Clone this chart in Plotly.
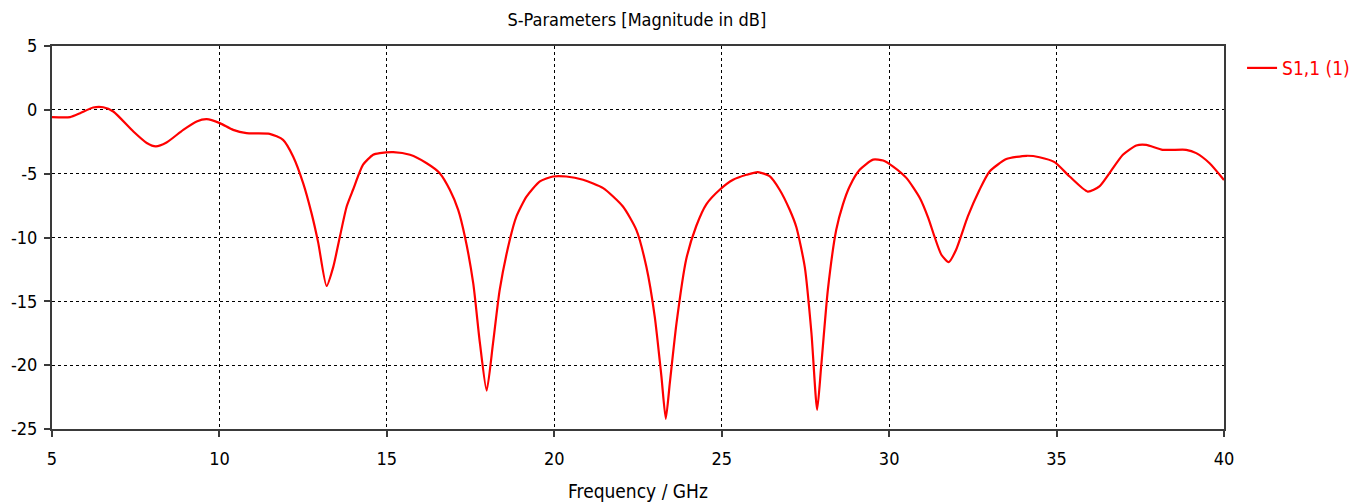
import plotly.graph_objects as go

freq_ghz = [5.0, 5.54, 5.84, 6.23, 6.53, 6.83, 7.43, 7.83, 8.1, 8.42, 8.92, 9.32, 9.62, 10.01,
            10.41, 10.81, 11.5, 11.9, 12.2, 12.5, 12.75, 12.95, 13.2, 13.4, 13.6, 13.8, 13.99,
            14.29, 14.59, 14.79, 15.19, 15.69, 16.19, 16.58, 16.88, 17.13, 17.33, 17.58, 17.78,
            17.98, 18.17, 18.37, 18.67, 18.87, 19.17, 19.57, 19.96, 20.36, 20.86, 21.46, 22.05,
            22.45, 22.75, 23.0, 23.2, 23.33, 23.45, 23.65, 23.94, 24.24, 24.54, 24.94, 25.34,
            25.74, 26.08, 26.43, 26.73, 27.03, 27.23, 27.48, 27.68, 27.85, 27.97, 28.17, 28.42,
            28.62, 28.82, 29.12, 29.52, 29.82, 30.12, 30.52, 30.92, 31.17, 31.35, 31.56, 31.78,
            32.0, 32.35, 32.7, 33.0, 33.5, 34.1, 34.49, 34.94, 35.39, 35.93, 36.28, 36.58,
            36.98, 37.38, 37.68, 38.17, 38.87, 39.17, 39.57, 40.0]
s11_db = [-0.57, -0.57, -0.26, 0.18, 0.2, -0.13, -1.7, -2.6, -2.87, -2.56, -1.57, -0.91, -0.73,
          -1.04, -1.57, -1.83, -1.88, -2.35, -3.65, -5.74, -8.09, -10.4, -13.8, -12.3, -9.9,
          -7.57, -6.26, -4.3, -3.52, -3.39, -3.31, -3.52, -4.18, -4.96, -6.26, -7.83, -9.92,
          -13.6, -18.3, -22.0, -18.3, -14.1, -10.2, -8.35, -6.8, -5.6, -5.22, -5.22, -5.48,
          -6.13, -7.57, -9.4, -12.3, -16.2, -20.9, -24.2, -21.4, -16.7, -11.7, -9.1, -7.4,
          -6.26, -5.48, -5.09, -4.88, -5.2, -6.26, -7.83, -9.2, -12.3, -17.5, -23.5, -20.1,
          -14.1, -9.4, -7.4, -6.0, -4.7, -3.9, -3.97, -4.44, -5.35, -6.92, -8.48, -9.9,
          -11.35, -11.93, -10.96, -8.35, -6.26, -4.83, -3.86, -3.6, -3.71, -4.1, -5.22, -6.4,
          -6.0, -4.96, -3.52, -2.79, -2.74, -3.13, -3.13, -3.39, -4.18, -5.5]

x_ticks = [5, 10, 15, 20, 25, 30, 35, 40]
y_ticks = [5, 0, -5, -10, -15, -20, -25]

FONT = "DejaVu Sans Condensed, DejaVu Sans, sans-serif"

fig = go.Figure()
fig.add_trace(go.Scatter(
    x=freq_ghz, y=s11_db, mode="lines", name="S1,1 (1)",
    line=dict(color="#ff0000", width=2.2, shape="spline", smoothing=0.6),
))

axis_common = dict(
    showline=True, linecolor="#3a3a3a", linewidth=2, mirror=True,
    showgrid=True, gridcolor="#000000", gridwidth=1, griddash="3px,3px",
    ticks="outside", ticklen=6, tickcolor="#3a3a3a", tickwidth=2,
    zeroline=False, automargin=False,
    tickfont=dict(family=FONT, size=18, color="#000000"),
)

fig.update_layout(
    width=1359, height=494,
    paper_bgcolor="white", plot_bgcolor="white",
    margin=dict(l=44, r=143, t=38, b=73),
    title=dict(text="S-Parameters [Magnitude in dB]", x=0.499, xanchor="center",
               xref="paper", yref="container", y=0.976, yanchor="middle",
               font=dict(family=FONT, size=18, color="#000000")),
    xaxis=dict(range=[5, 40], tickvals=x_ticks, ticktext=[str(v) for v in x_ticks],
               ticklabelstandoff=6,
               title=dict(text="Frequency / GHz", standoff=18,
                          font=dict(family=FONT, size=19, color="#000000")),
               **axis_common),
    yaxis=dict(range=[-25, 5], tickvals=y_ticks, ticktext=[str(v) for v in y_ticks],
               ticklabelstandoff=3, **axis_common),
    showlegend=True,
    legend=dict(x=1.0154, y=0.992, xanchor="left", yanchor="top",
                font=dict(family=FONT, size=19, color="#ff0000"),
                bgcolor="rgba(0,0,0,0)"),
)

fig.write_html("out.html")
